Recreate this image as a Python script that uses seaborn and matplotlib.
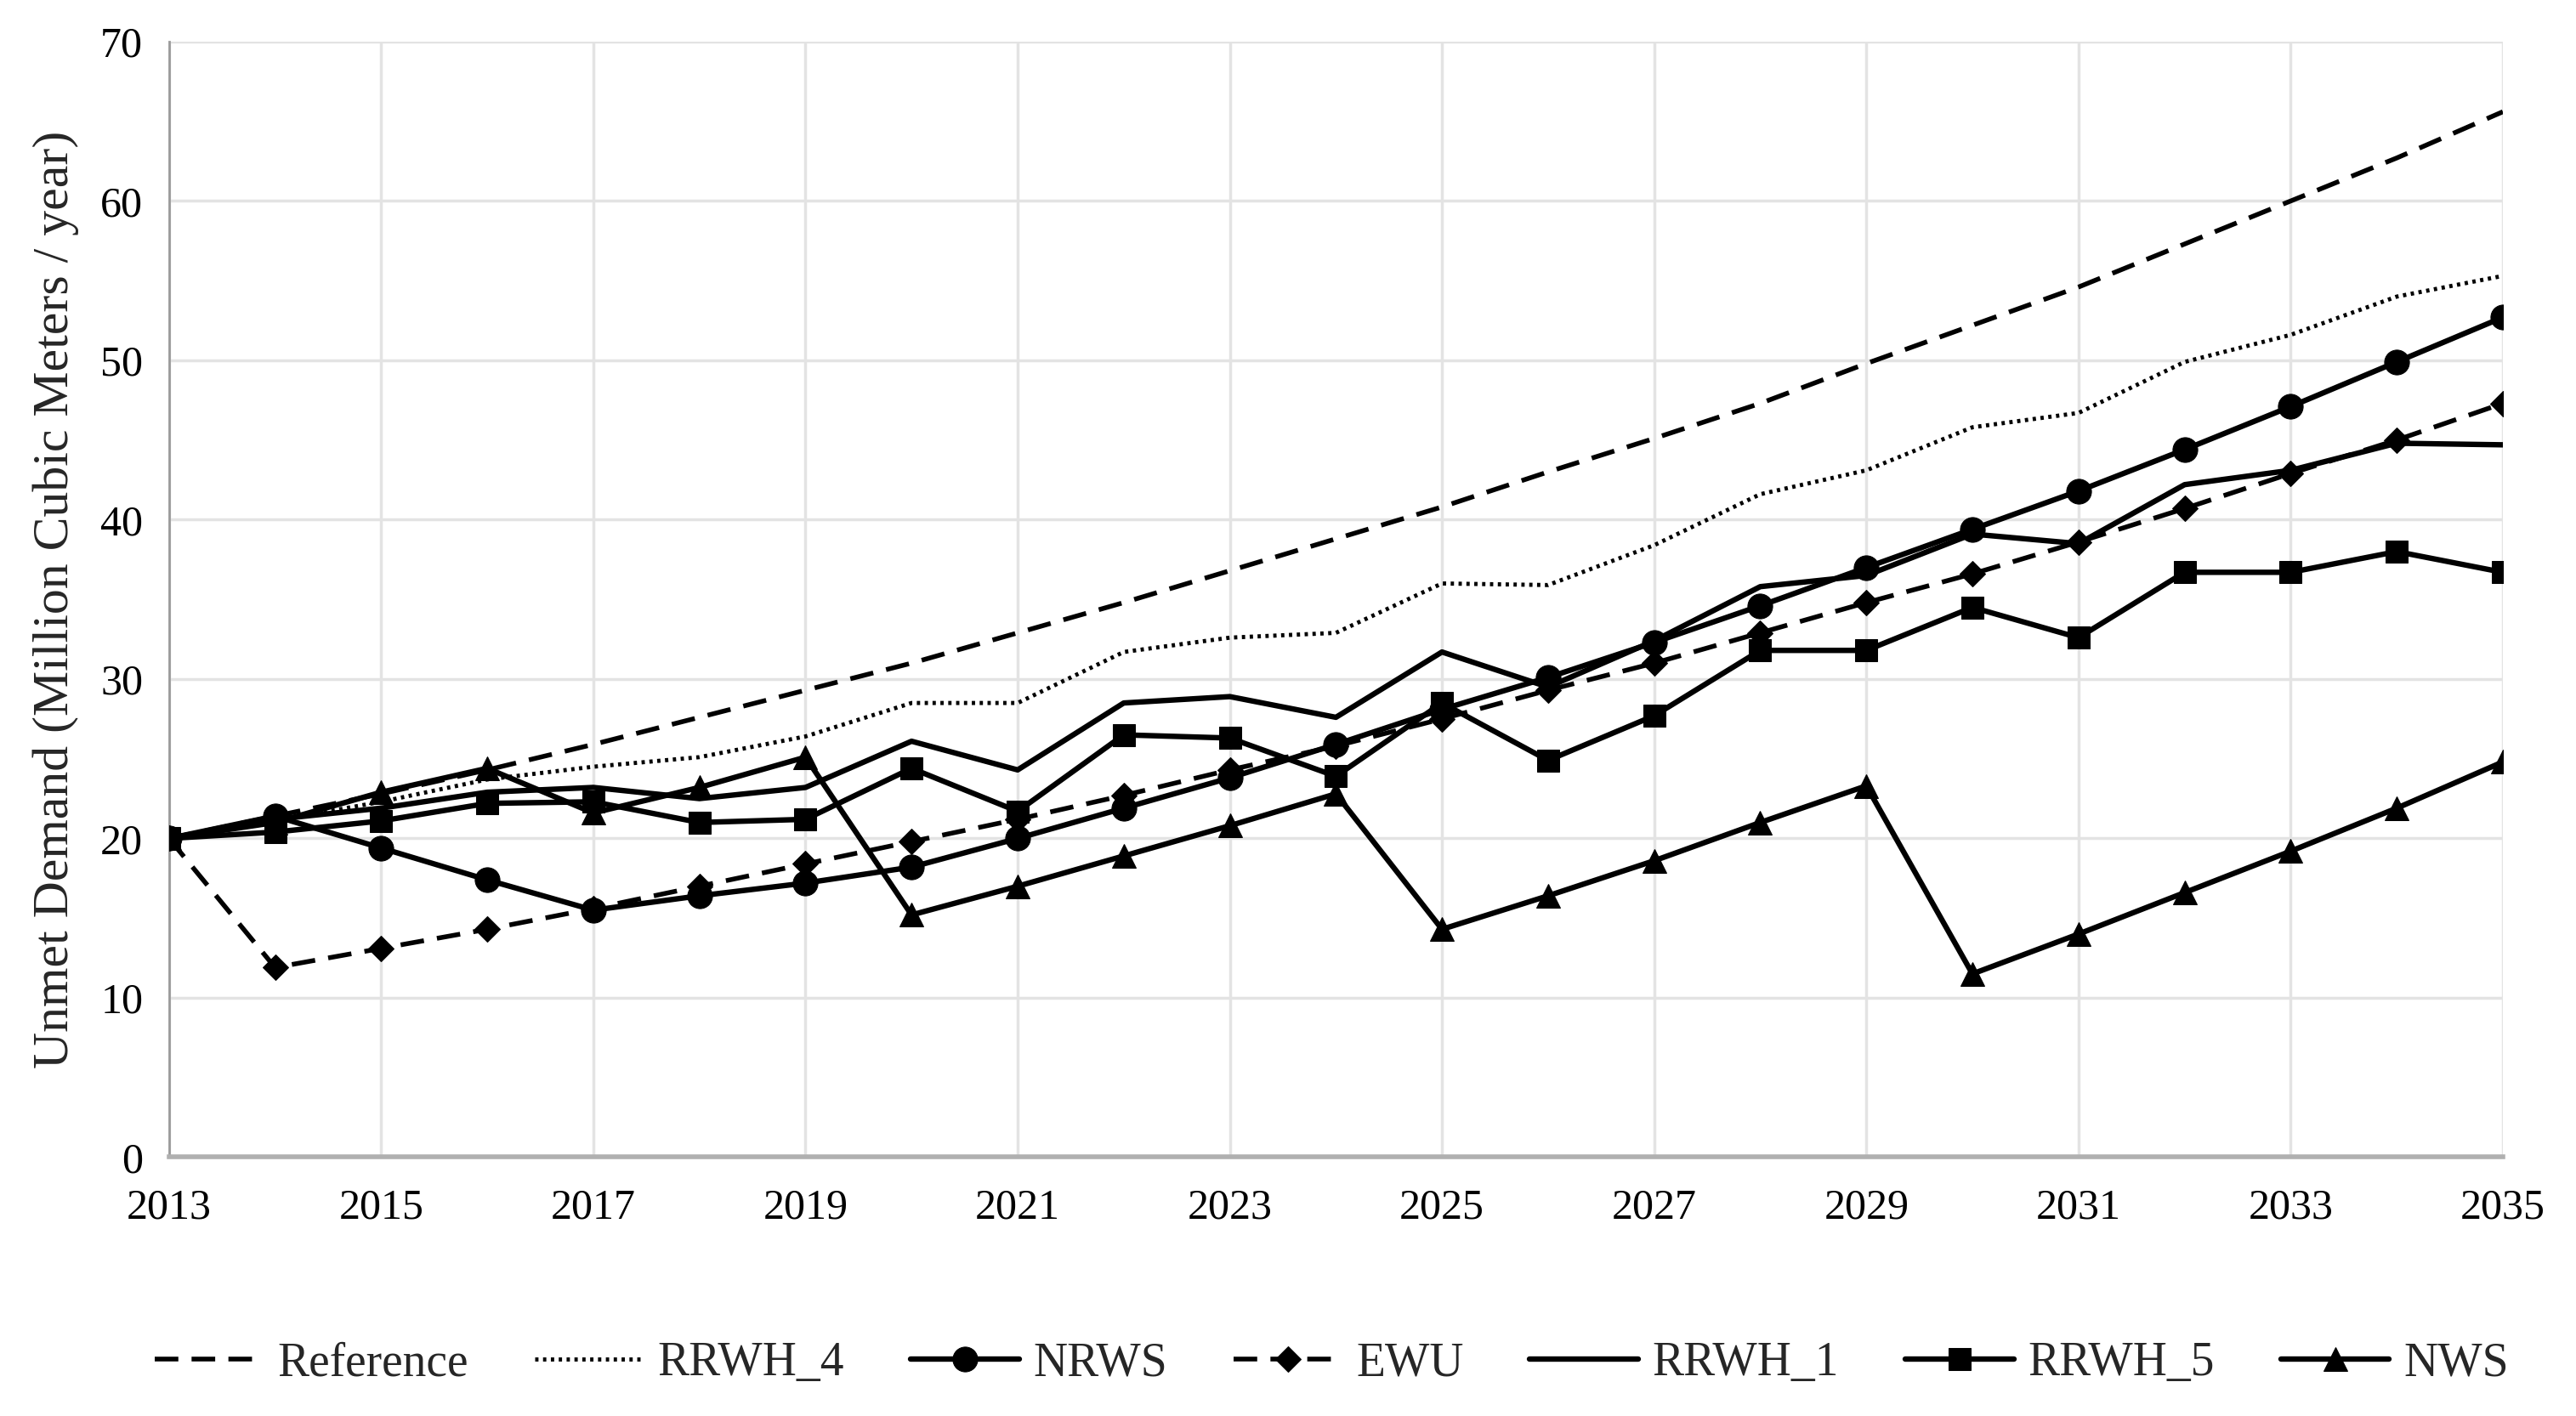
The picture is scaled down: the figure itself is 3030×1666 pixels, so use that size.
import numpy as np
import pandas as pd
import seaborn as sns
import matplotlib.pyplot as plt

years = list(range(2013, 2036))

reference = [20.0, 21.4, 22.8, 24.3, 25.9, 27.6, 29.3, 31.0, 32.9, 34.8, 36.8, 38.8,
             40.8, 43.0, 45.1, 47.3, 49.8, 52.2, 54.6, 57.3, 60.0, 62.7, 65.6]
rrwh_4 = [20.0, 21.1, 22.3, 23.7, 24.5, 25.1, 26.4, 28.5, 28.5, 31.7, 32.6, 32.9,
          36.0, 35.9, 38.4, 41.6, 43.1, 45.8, 46.7, 49.9, 51.6, 54.0, 55.3]
nrws = [20.0, 21.4, 19.4, 17.4, 15.5, 16.4, 17.2, 18.2, 20.0, 21.9, 23.8, 25.9,
        28.1, 30.1, 32.3, 34.6, 37.0, 39.4, 41.8, 44.4, 47.1, 49.9, 52.7]
ewu = [20.0, 11.9, 13.1, 14.3, 15.6, 17.0, 18.4, 19.8, 21.2, 22.7, 24.3, 25.8,
       27.5, 29.3, 31.0, 32.9, 34.8, 36.6, 38.6, 40.7, 42.9, 45.0, 47.3]
rrwh_1 = [20.0, 21.2, 21.9, 22.9, 23.2, 22.5, 23.2, 26.1, 24.3, 28.5, 28.9, 27.6,
          31.7, 29.5, 32.4, 35.8, 36.5, 39.1, 38.5, 42.2, 43.1, 44.8, 44.7]
rrwh_5 = [20.0, 20.4, 21.1, 22.2, 22.3, 21.0, 21.2, 24.4, 21.7, 26.5, 26.3, 23.9,
          28.5, 24.9, 27.7, 31.8, 31.8, 34.5, 32.6, 36.7, 36.7, 38.0, 36.7]
nws = [20.0, 21.0, 22.9, 24.4, 21.6, 23.2, 25.1, 15.2, 17.0, 18.9, 20.8, 22.8,
       14.3, 16.4, 18.6, 21.0, 23.3, 11.5, 14.0, 16.6, 19.2, 21.9, 24.8]

series_names = ["Reference", "RRWH_4", "NRWS", "EWU", "RRWH_1", "RRWH_5", "NWS"]
series_values = [reference, rrwh_4, nrws, ewu, rrwh_1, rrwh_5, nws]

styles = {
    "Reference": dict(linestyle=(0, (5, 2.8)), marker=None, lw=4.0),
    "RRWH_4": dict(linestyle=(0, (0.8, 1.1)), marker=None, lw=3.5),
    "NRWS": dict(linestyle="-", marker="o", lw=4.6, ms=21),
    "EWU": dict(linestyle=(0, (5, 2.8)), marker="D", lw=4.0, ms=15),
    "RRWH_1": dict(linestyle="-", marker=None, lw=4.6),
    "RRWH_5": dict(linestyle="-", marker="s", lw=4.6, ms=19),
    "NWS": dict(linestyle="-", marker="^", lw=4.6, ms=20),
}

sns.set_style("white")
plt.rcParams['font.family'] = ['Liberation Serif', 'DejaVu Serif']

fig = plt.figure(figsize=(30.3, 16.66), dpi=100)
ax = fig.add_axes([0.0656, 0.1828, 0.906, 0.7878])

for name, vals in zip(series_names, series_values):
    st = styles[name]
    sns.lineplot(x=years, y=vals, ax=ax, color="black", linestyle=st["linestyle"],
                 marker=st["marker"], markersize=st.get("ms", 0), linewidth=st["lw"],
                 markeredgecolor="black", label=name, zorder=3)

ax.set_xlim(2013, 2035)
ax.set_ylim(0, 70)
ax.set_xticks(range(2013, 2036, 2))
ax.set_yticks(range(0, 71, 10))
ax.grid(True, color="#e3e3e3", linewidth=2.5, zorder=0)
ax.set_axisbelow(True)
for s in ["top", "right"]:
    ax.spines[s].set_visible(False)
ax.spines["left"].set_color("#9a9a9a")
ax.spines["left"].set_linewidth(2)
ax.spines["bottom"].set_color("#b0b0b0")
ax.spines["bottom"].set_linewidth(4)
ax.tick_params(axis="both", labelsize=36, length=12, width=2, color="#9a9a9a",
               direction="out", pad=10, labelcolor="black")
ax.tick_params(axis="x", pad=14)
ax.set_xlabel("")
ax.set_ylabel("Unmet Demand (Million Cubic Meters / year)", fontsize=43, labelpad=18)

ax.legend(loc="center", bbox_to_anchor=(0.517, 0.037), bbox_transform=fig.transFigure,
          ncol=7, frameon=False, fontsize=40, handlelength=2.3, columnspacing=1.4,
          handletextpad=0.3)

fig.savefig("out.png", dpi=100)
